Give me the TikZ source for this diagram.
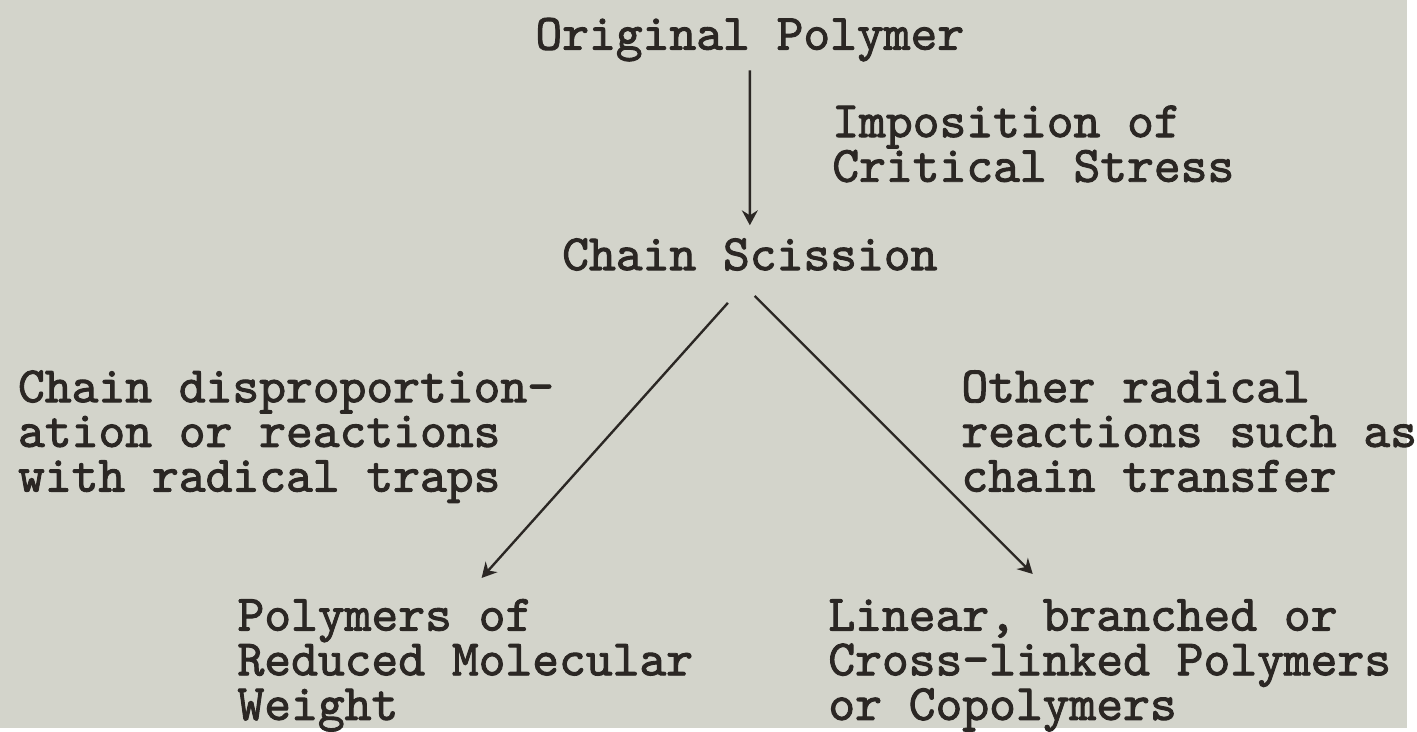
\documentclass[tikz,border=0pt]{standalone}
\usepackage{fontspec}
\setmainfont[FakeBold=1.8]{lmmono10-regular.otf}
\usetikzlibrary{arrows.meta}
\definecolor{paper}{HTML}{D3D4CB}
\definecolor{ink}{HTML}{2B2724}

\begin{document}
\begin{tikzpicture}[x=0.5pt,y=-0.5pt,->,>={Stealth[length=7.5pt,width=8pt,inset=2.5pt]},
  line width=1.2pt,draw=ink,
  label node/.style={anchor=base west,inner sep=0pt,align=left,text=ink,
    font=\fontsize{25.7}{22.5}\selectfont}]

  \path[fill=paper] (0,0) rectangle (1417,733);

  % base anchor = baseline of the last line
  \node[label node] (orig) at (538,50) {Original Polymer};
  \node[label node] (stress) at (837,183) {Imposition of\\Critical Stress};
  \node[label node] (scis) at (565,272) {Chain Scission};
  \node[label node] (disp) at (17,495) {Chain disproportion-\\ation or reactions\\with radical traps};
  \node[label node] (other) at (967,495) {Other radical\\reactions such as\\chain transfer};
  \node[label node] (reduced) at (238,725) {Polymers of\\Reduced Molecular\\Weight};
  \node[label node] (linked) at (833,725) {Linear, branched or\\Cross-linked Polymers\\or Copolymers};

  % branch ends
  \coordinate (scisL) at (733,305);
  \coordinate (scisR) at (760,298);
  \coordinate (tipL) at (485,582);
  \coordinate (tipR) at (1040,578);

  \draw[shorten >=6pt] (orig.south) ++(0,8) coordinate (top) -- (scis.north);
  \draw (scisL) -- (tipL);
  \draw (scisR) -- (tipR);
\end{tikzpicture}
\end{document}
